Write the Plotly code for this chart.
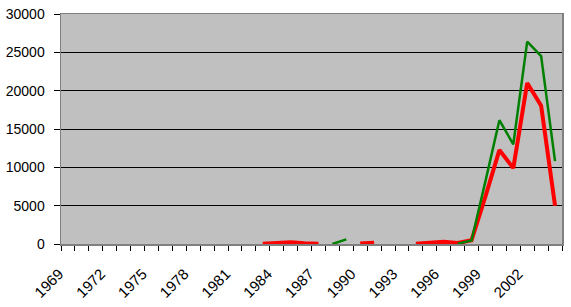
import plotly.graph_objects as go

years = list(range(1969, 2005))
tick_years = years[::3]
tick_labels = [str(y) for y in tick_years]

red_series = [None]*14 + [20, 80, 220, 100, 30, None, None, 50, 170, None, None,
                          30, 100, 300, 130, 480, 6200, 12250, 9900, 21000, 18050, 5000]
green_series = [None]*19 + [0, 600] + [None]*7 + [50, 450, 8200, 16150, 13000, 26400, 24500, 10800]

fig = go.Figure()
fig.add_trace(go.Scatter(x=years, y=red_series, mode="lines",
                         line=dict(color="#FF0000", width=4), connectgaps=False,
                         hoverinfo="skip", showlegend=False))
fig.add_trace(go.Scatter(x=years, y=green_series, mode="lines",
                         line=dict(color="#008000", width=2.5), connectgaps=False,
                         hoverinfo="skip", showlegend=False))

font = dict(family="Liberation Sans, Arial, sans-serif", size=14, color="#000000")

fig.update_layout(
    width=571, height=307,
    margin=dict(l=61, r=9, t=14, b=63),
    paper_bgcolor="#FFFFFF",
    plot_bgcolor="#C0C0C0",
    font=font,
    showlegend=False,
    xaxis=dict(
        range=[1968.5, 2004.5], automargin=False,
        tickmode="array", tickvals=tick_years,
        ticktext=[t + "\u00a0\u00a0\u00a0" for t in tick_labels],
        tickfont=dict(family="Liberation Sans, Arial, sans-serif", size=15, color="#000000"),
        ticks="", tickangle=-45, ticklabelstandoff=5,
        showgrid=False, zeroline=False,
        showline=True, linecolor="#808080", linewidth=1.5, mirror=True,
        minor=dict(tick0=1968.5, dtick=1, ticks="outside", ticklen=5,
                   tickcolor="#000000", tickwidth=1, showgrid=False),
        fixedrange=True,
    ),
    yaxis=dict(
        range=[0, 30000], tickmode="linear", tick0=0, dtick=5000, tickformat="d",
        automargin=False,
        ticks="outside", ticklen=6, tickcolor="#000000", tickwidth=1,
        ticklabelstandoff=6,
        showgrid=True, gridcolor="#000000", gridwidth=1,
        zeroline=False,
        showline=True, linecolor="#808080", linewidth=1.5, mirror=True,
        fixedrange=True,
    ),
)

fig.write_html("out.html", config={"displayModeBar": False, "staticPlot": True},
               post_script="document.body.style.margin='0px';document.body.style.overflow='hidden';")
